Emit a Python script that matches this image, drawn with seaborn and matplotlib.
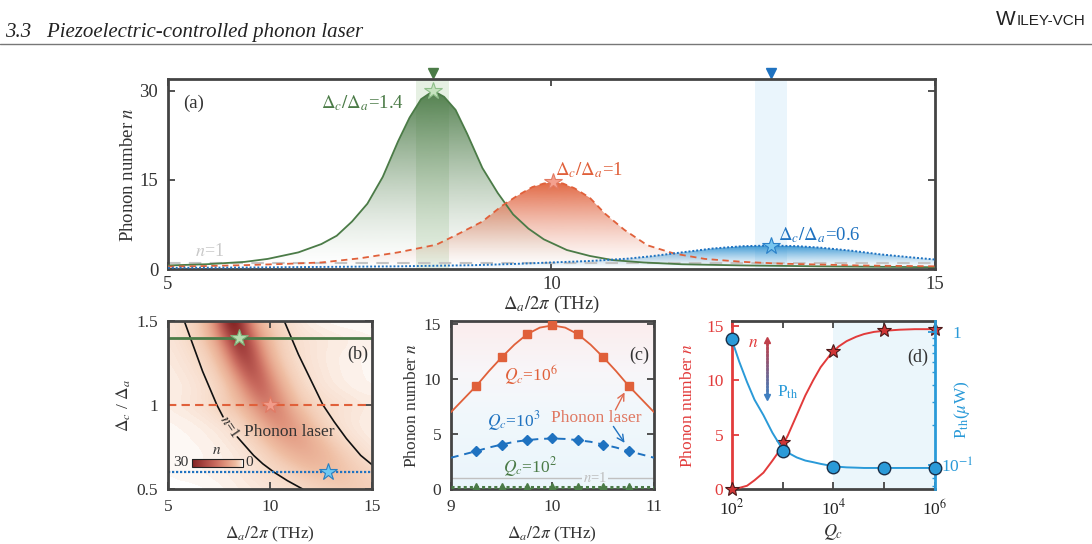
import numpy as np
import matplotlib
import matplotlib.pyplot as plt
import seaborn as sns
from matplotlib.colors import LinearSegmentedColormap, to_rgb
from matplotlib.patches import Polygon
from matplotlib.collections import LineCollection
from matplotlib.lines import Line2D

# ---------------- data ----------------
# (a) phonon number vs detuning for three ratios
ratios = [1.4, 1.0, 0.6]
peak_x = [8.46, 10.02, 12.86]
peak_n = [30.0, 14.6, 3.95]

green_x = [5.0, 5.5, 6.0, 6.3, 6.7, 7.0, 7.2, 7.4, 7.6, 7.8, 8.0, 8.15, 8.3, 8.46, 8.6,
           8.75, 8.9, 9.1, 9.3, 9.5, 9.7, 9.9, 10.2, 10.5, 10.8, 11.2, 11.7, 12.5, 13.5, 15.0]
green_n = [0.6, 0.8, 1.2, 1.7, 2.8, 4.2, 5.6, 8.0, 11.0, 15.5, 21.5, 25.5, 28.6, 30.0, 29.0,
           26.8, 22.8, 17.0, 12.8, 9.2, 6.8, 5.0, 3.2, 2.2, 1.5, 1.1, 0.8, 0.6, 0.45, 0.3]

red_x = [5.0, 5.5, 6.0, 6.5, 7.0, 7.5, 8.0, 8.5, 8.8, 9.1, 9.35, 9.55, 9.75, 9.9, 10.02,
         10.15, 10.3, 10.5, 10.7, 10.95, 11.25, 11.6, 12.0, 12.5, 13.0, 13.5, 14.0, 15.0]
red_n = [0.4, 0.5, 0.65, 0.85, 1.1, 1.8, 2.8, 4.1, 6.0, 8.0, 10.6, 12.3, 13.8, 14.4, 14.6,
         14.4, 13.6, 12.0, 9.3, 6.6, 4.0, 2.6, 1.7, 1.2, 0.9, 0.75, 0.6, 0.45]

blue_x = [5.0, 6.0, 7.0, 8.0, 9.0, 9.5, 10.0, 10.5, 11.0, 11.3, 11.7, 12.1, 12.5, 12.86,
          13.2, 13.5, 13.9, 14.3, 14.7, 15.0]
blue_n = [0.2, 0.25, 0.35, 0.45, 0.65, 0.85, 1.1, 1.35, 1.75, 2.15, 2.8, 3.45, 3.85, 3.95,
          3.85, 3.6, 3.1, 2.45, 1.95, 1.6]

# (b) phonon number map: rows = Delta_c/Delta_a, columns = Delta_a/2pi
map_x = [5.0, 5.5, 6.0, 6.5, 7.0, 7.5, 8.0, 8.5, 9.0, 9.5, 10.0, 10.5, 11.0, 11.5, 12.0,
         12.5, 13.0, 13.5, 14.0, 14.5, 15.0]
map_r = [0.5, 0.6, 0.7, 0.8, 0.9, 1.0, 1.1, 1.2, 1.3, 1.4, 1.5]
map_n = [
    [0.02, 0.03, 0.04, 0.06, 0.1, 0.16, 0.25, 0.32, 0.4, 0.48, 0.58, 0.7, 0.85, 1.05, 1.3, 1.6, 1.95, 2.3, 2.5, 2.4, 2.2],
    [0.15, 0.2, 0.22, 0.25, 0.3, 0.35, 0.4, 0.5, 0.65, 0.85, 1.1, 1.35, 1.7, 2.4, 3.2, 3.8, 3.95, 3.7, 2.9, 2.1, 1.6],
    [0.12, 0.14, 0.16, 0.19, 0.23, 0.3, 0.37, 0.5, 0.72, 1.15, 1.9, 3.0, 4.4, 5.8, 6.3, 5.6, 4.2, 2.8, 1.7, 1.07, 0.66],
    [0.16, 0.19, 0.22, 0.27, 0.34, 0.43, 0.59, 0.88, 1.5, 2.6, 4.5, 6.9, 8.6, 8.4, 6.2, 3.9, 2.2, 1.2, 0.77, 0.53, 0.4],
    [0.2, 0.24, 0.29, 0.36, 0.47, 0.63, 0.94, 1.6, 3.1, 5.8, 9.3, 11.5, 9.9, 6.3, 3.4, 1.8, 1.0, 0.67, 0.5, 0.38, 0.3],
    [0.4, 0.5, 0.6, 0.8, 1.1, 1.9, 2.8, 4.1, 7.2, 11.6, 14.6, 11.5, 6.3, 3.0, 1.9, 1.3, 1.0, 0.8, 0.65, 0.55, 0.5],
    [0.31, 0.38, 0.49, 0.67, 0.94, 1.5, 3.1, 6.8, 13.3, 18.0, 14.2, 7.6, 3.4, 1.6, 0.97, 0.68, 0.5, 0.39, 0.31, 0.25, 0.22],
    [0.39, 0.5, 0.65, 0.92, 1.4, 2.7, 6.2, 13.8, 21.1, 18.1, 9.7, 4.1, 1.9, 1.1, 0.77, 0.58, 0.43, 0.34, 0.28, 0.24, 0.2],
    [0.48, 0.64, 0.87, 1.3, 2.2, 5.1, 12.4, 23.2, 23.7, 13.3, 5.5, 2.4, 1.3, 0.9, 0.66, 0.48, 0.38, 0.32, 0.26, 0.22, 0.18],
    [0.6, 0.8, 1.3, 2.1, 4.3, 9.7, 21.0, 29.8, 19.5, 9.0, 4.2, 2.1, 1.3, 0.9, 0.7, 0.6, 0.5, 0.45, 0.4, 0.35, 0.3],
    [0.68, 0.95, 1.4, 2.5, 6.1, 16.7, 32.3, 27.5, 11.9, 4.3, 2.0, 1.2, 0.85, 0.45, 0.3, 0.2, 0.14, 0.1, 0.08, 0.06, 0.05],
]
# n = 1 contour lines (left one has a gap for its label)
cl_up_x = [5.8, 6.1, 6.4, 6.7, 7.05, 7.4, 7.7]
cl_up_r = [1.5, 1.4, 1.3, 1.2, 1.1, 1.0, 0.93]
cl_lo_x = [8.4, 8.8, 9.2, 9.65, 10.2, 10.85, 11.6]
cl_lo_r = [0.81, 0.755, 0.7, 0.65, 0.6, 0.55, 0.5]
cr_x = [10.7, 11.05, 11.4, 11.8, 12.2, 12.6, 13.15, 13.75, 14.45, 15.0]
cr_r = [1.5, 1.4, 1.3, 1.2, 1.1, 1.0, 0.9, 0.8, 0.7, 0.645]

# (c) phonon number near resonance for three Q_c
c_mark_x = [9.25, 9.5, 9.75, 10.0, 10.25, 10.5, 10.75]
q6_mark = [9.4, 12.0, 14.1, 14.9, 14.1, 12.0, 9.4]
q3_mark = [3.45, 4.05, 4.45, 4.6, 4.45, 4.05, 3.45]
q2_mark = [0.2, 0.2, 0.2, 0.2, 0.2, 0.2, 0.2]
c_line_x = [9.0, 9.125, 9.25, 9.375, 9.5, 9.625, 9.75, 9.875, 10.0, 10.125, 10.25, 10.375,
            10.5, 10.625, 10.75, 10.875, 11.0]
q6_line = [7.0, 8.2, 9.4, 10.75, 12.0, 13.15, 14.1, 14.7, 14.9, 14.7, 14.1, 13.15, 12.0,
           10.75, 9.4, 8.2, 7.0]
q3_line = [2.85, 3.15, 3.45, 3.78, 4.05, 4.3, 4.45, 4.56, 4.6, 4.56, 4.45, 4.3, 4.05, 3.78,
           3.45, 3.15, 2.85]
q2_line = [0.2] * 17

# (d) n and threshold power vs Q_c
qc_pts = [1e2, 1e3, 1e4, 1e5, 1e6]
n_pts = [0.0, 4.3, 12.7, 14.6, 14.7]
p_pts = [0.88, 0.128, 0.097, 0.095, 0.095]
qc_line = [100, 140, 200, 280, 420, 630, 890, 1260, 1900, 2800, 4000, 5600, 8500, 12600,
           18200, 28000, 40000, 63000, 1e5, 2e5, 4e5, 1e6]
n_line = [0.0, 0.1, 0.3, 0.8, 1.5, 2.6, 3.6, 4.9, 6.8, 8.6, 10.0, 11.2, 12.3, 13.1, 13.6,
          14.0, 14.25, 14.45, 14.55, 14.65, 14.7, 14.7]
p_line = [0.88, 0.6, 0.42, 0.31, 0.237, 0.175, 0.141, 0.124, 0.114, 0.108, 0.105, 0.102,
          0.099, 0.097, 0.096, 0.0955, 0.095, 0.095, 0.095, 0.095, 0.095, 0.095]

# ---------------- style ----------------
sns.set_theme(style='ticks')
plt.rcParams.update({
    'font.family': ['Liberation Serif', 'DejaVu Serif'],
    'mathtext.fontset': 'stix',
    'axes.linewidth': 2.0,
    'axes.edgecolor': '#444444',
    'xtick.direction': 'in', 'ytick.direction': 'in',
    'xtick.top': True, 'ytick.right': True,
    'xtick.major.size': 5, 'ytick.major.size': 5,
    'xtick.major.width': 1.3, 'ytick.major.width': 1.3,
    'xtick.minor.size': 2.5, 'ytick.minor.size': 2.5,
    'xtick.color': '#444444', 'ytick.color': '#444444',
    'xtick.labelcolor': '#333333', 'ytick.labelcolor': '#333333',
    'axes.labelcolor': '#333333', 'text.color': '#333333',
})

GREEN = '#4b7b47'
RED = '#e0603a'
BLUE = '#1f72c0'
RED_D = '#e23b3b'
BLUE_D = '#2a9ad8'

fig = plt.figure(figsize=(10.92, 5.44), dpi=100)

# header
fig.text(0.005, 1 - 33 / 544, '3.3   Piezoelectric-controlled phonon laser', style='italic',
         fontsize=15, va='center', color='#222222')
fig.add_artist(Line2D([0, 1], [1 - 44 / 544] * 2, color='#777777', lw=1))
t_rest = fig.text(0.9935, 1 - 25 / 544, 'ILEY-VCH', ha='right', va='baseline', fontsize=11,
                  family='Liberation Sans', color='#222222')
bb = t_rest.get_window_extent(fig.canvas.get_renderer())
fig.text(bb.x0 / fig.bbox.width, 1 - 25 / 544, 'W', ha='right', va='baseline', fontsize=15,
         family='Liberation Sans', color='#222222')


def gradient_fill(ax, x, y, color, alpha_top, z):
    x = np.asarray(x, float)
    y = np.asarray(y, float)
    verts = np.column_stack([np.r_[x[0], x, x[-1]], np.r_[0, y, 0]])
    clip = Polygon(verts, closed=True, facecolor='none', edgecolor='none',
                   transform=ax.transData)
    ax.add_patch(clip)
    img = np.zeros((256, 1, 4))
    img[..., :3] = to_rgb(color)
    img[:, 0, 3] = np.linspace(0, 1, 256) ** 1.4 * alpha_top
    im = ax.imshow(img, extent=(x.min(), x.max(), 0, y.max()), origin='lower',
                   aspect='auto', zorder=z, interpolation='bilinear')
    im.set_clip_path(clip)


# ---------------- (a) ----------------
ax_a = fig.add_axes([0.1538, 0.5055, 0.7024, 0.3493])
ax_a.axvspan(8.23, 8.67, color='#e6f0e3', zorder=0.2, lw=0)
ax_a.axvspan(12.65, 13.07, color='#eaf5fc', zorder=0.2, lw=0)
gradient_fill(ax_a, green_x, green_n, '#4a7a46', 0.95, 1)
gradient_fill(ax_a, red_x, red_n, '#e0603a', 0.95, 1.1)
gradient_fill(ax_a, blue_x, blue_n, '#2b8fd0', 0.95, 1.2)
ax_a.axhline(1, color='#c4c4c4', lw=1.5, ls=(0, (6, 4)), zorder=1.5)
sns.lineplot(x=green_x, y=green_n, ax=ax_a, color=GREEN, lw=1.3, zorder=3)
sns.lineplot(x=red_x, y=red_n, ax=ax_a, color=RED, lw=1.3, linestyle=(0, (3.5, 2.5)), zorder=3)
sns.lineplot(x=blue_x, y=blue_n, ax=ax_a, color=BLUE, lw=1.4, linestyle=(0, (1, 1)), zorder=3)
star_fc = ['#c6e3bf', '#f4a08e', '#78c6ef']
star_ec = ['#8fbf8a', '#e27a62', '#2a80c8']
for px, pn, fc, ec in zip(peak_x, peak_n, star_fc, star_ec):
    ax_a.plot(px, pn, marker='*', ms=13, mfc=fc, mec=ec, mew=0.8, zorder=4, ls='none')
trans = ax_a.get_xaxis_transform()
ax_a.plot(peak_x[0], 1.032, 'v', color=GREEN, ms=7, transform=trans, clip_on=False)
ax_a.plot(peak_x[2], 1.032, 'v', color=BLUE, ms=7, transform=trans, clip_on=False)
ax_a.set_xlim(5, 15)
ax_a.set_ylim(0, 32)
ax_a.set_xticks([5, 10, 15])
ax_a.set_yticks([0, 15, 30])
ax_a.tick_params(axis='y', labelsize=13.5, pad=7)
ax_a.tick_params(axis='x', labelsize=13.5, pad=5)
ax_a.set_xlabel(r'$\Delta_a/2\pi$ (THz)', fontsize=13.5)
ax_a.set_ylabel(r'Phonon number $n$', fontsize=13.5)
ax_a.xaxis.set_label_coords(0.5, -0.13)
ax_a.yaxis.set_label_coords(-0.04, 0.495)
ax_a.text(5.33, 27.9, '(a)', fontsize=13.5, ha='center', va='center')
ax_a.text(7.0, 27.9, r'$\Delta_c/\Delta_a$=%.1f' % ratios[0], color=GREEN, fontsize=13.5, va='center')
ax_a.text(10.05, 16.7, r'$\Delta_c/\Delta_a$=%g' % ratios[1], color=RED, fontsize=13.5, va='center')
ax_a.text(12.95, 5.7, r'$\Delta_c/\Delta_a$=%.1f' % ratios[2], color=BLUE, fontsize=13.5, va='center')
ax_a.text(5.35, 2.9, r'$n$=1', color='#c8c8c8', fontsize=13, va='center')

# ---------------- (b) ----------------
ax_b = fig.add_axes([0.1538, 0.1011, 0.1868, 0.3088])
heat_cmap = LinearSegmentedColormap.from_list('heat', [
    (0.0, '#ffffff'), (0.007, '#fdf3ec'), (0.017, '#fae6d9'), (0.05, '#f6d6c2'),
    (0.133, '#efbda2'), (0.333, '#e0937c'), (0.533, '#c96a5e'), (0.767, '#a64340'),
    (1.0, '#7f1f1f')])
im = ax_b.imshow(np.array(map_n), extent=(map_x[0] - 0.25, map_x[-1] + 0.25,
                                          map_r[0] - 0.05, map_r[-1] + 0.05),
                 origin='lower', aspect='auto', cmap=heat_cmap, vmin=0, vmax=30,
                 interpolation='bicubic', zorder=0)
ax_b.plot(cl_up_x, cl_up_r, color='#111111', lw=1.2)
ax_b.plot(cl_lo_x, cl_lo_r, color='#111111', lw=1.2)
ax_b.plot(cr_x, cr_r, color='#111111', lw=1.2)
ax_b.axhline(ratios[0], color=GREEN, lw=2)
ax_b.axhline(ratios[1], color=RED, lw=1.5, ls=(0, (4, 2.5)))
ax_b.axhline(ratios[2], color=BLUE, lw=1.6, ls=(0, (1, 0.8)))
bstar_fc = ['#b5dcae', '#f29c8a', '#6ec8f2']
bstar_ec = ['#7fb27a', '#e07a64', '#2a7fc0']
for px, pr, fc, ec in zip(peak_x, ratios, bstar_fc, bstar_ec):
    ax_b.plot(px, pr, marker='*', ms=13, mfc=fc, mec=ec, mew=0.8, ls='none', zorder=4)
ax_b.text(8.05, 0.87, r'$n$=1', rotation=-56, rotation_mode='anchor', ha='center',
          va='center', fontsize=10.5, color='#222222')
ax_b.text(10.95, 0.84, 'Phonon laser', fontsize=12.5, ha='center', va='center', color='#333333')
ax_b.text(14.3, 1.30, '(b)', fontsize=13, ha='center', va='center')
cax = ax_b.inset_axes([0.116, 0.133, 0.25, 0.045])
cb = fig.colorbar(im, cax=cax, orientation='horizontal')
cax.invert_xaxis()
cb.set_ticks([15])
cax.xaxis.set_ticks_position('top')
cax.tick_params(axis='x', direction='in', length=3, width=1, color='#222222',
                labeltop=False, labelbottom=False, bottom=False)
cb.outline.set_linewidth(0.8)
cb.outline.set_edgecolor('#222222')
cax.text(-0.06, 0.5, '30', transform=cax.transAxes, ha='right', va='center', fontsize=11)
cax.text(1.06, 0.5, '0', transform=cax.transAxes, ha='left', va='center', fontsize=11)
cax.text(0.5, 2.1, r'$n$', transform=cax.transAxes, ha='center', va='center', fontsize=11)
ax_b.set_xlim(5, 15)
ax_b.set_ylim(0.5, 1.5)
ax_b.set_xticks([5, 10, 15])
ax_b.set_yticks([0.5, 1.0, 1.5])
ax_b.set_yticklabels(['0.5', '1', '1.5'])
ax_b.tick_params(labelsize=12.5, pad=7)
ax_b.set_xlabel(r'$\Delta_a/2\pi$ (THz)', fontsize=12.5)
ax_b.set_ylabel(r'$\Delta_c$ / $\Delta_a$', fontsize=12.5)
ax_b.xaxis.set_label_coords(0.5, -0.215)
ax_b.yaxis.set_label_coords(-0.17, 0.5)

# ---------------- (c) ----------------
ax_c = fig.add_axes([0.4130, 0.1011, 0.1859, 0.3088])
bg_cmap = LinearSegmentedColormap.from_list('bg', [
    (0.0, '#eaf5fb'), (0.45, '#f1f8fc'), (0.7, '#f8f6f9'), (1.0, '#fbeded')])
ax_c.imshow(np.linspace(0, 1, 128).reshape(-1, 1), extent=(9, 11, 0, 15.3), origin='lower',
            aspect='auto', cmap=bg_cmap, zorder=0, interpolation='bilinear')
ax_c.axhline(1, color='#c0c0c0', lw=1, zorder=1)
ax_c.text(10.42, 1.0, r'$n$=1', color='#bdbdbd', fontsize=10.5, ha='center', va='center',
          bbox=dict(facecolor='#edf6fb', edgecolor='none', pad=0.5), zorder=2)
sns.lineplot(x=c_line_x, y=q6_line, ax=ax_c, color=RED, lw=1.3, zorder=3)
sns.lineplot(x=c_line_x, y=q3_line, ax=ax_c, color=BLUE, lw=1.4, linestyle=(0, (4, 3)), zorder=3)
sns.lineplot(x=c_line_x, y=q2_line, ax=ax_c, color=GREEN, lw=2.2, linestyle=(0, (1, 1)), zorder=3)
ax_c.plot(c_mark_x, q6_mark, 's', color=RED, ms=5.5, zorder=4)
ax_c.plot(c_mark_x, q3_mark, 'D', color=BLUE, ms=5, zorder=4)
ax_c.plot(c_mark_x, q2_mark, '^', color=GREEN, ms=5.5, zorder=4)
ax_c.text(9.79, 10.4, r'$Q_c$=10$^6$', color=RED, fontsize=12.5, ha='center', va='center')
ax_c.text(9.62, 6.2, r'$Q_c$=10$^3$', color=BLUE, fontsize=12.5, ha='center', va='center')
ax_c.text(9.78, 2.0, r'$Q_c$=10$^2$', color=GREEN, fontsize=12.5, ha='center', va='center')
ax_c.text(10.43, 6.5, 'Phonon laser', color='#e07862', fontsize=12.5, ha='center', va='center')
ax_c.annotate('', xy=(10.71, 8.8), xytext=(10.62, 7.2),
              arrowprops=dict(arrowstyle='->', color='#e06a50', lw=1, shrinkA=0, shrinkB=0))
ax_c.annotate('', xy=(10.71, 4.2), xytext=(10.6, 5.7),
              arrowprops=dict(arrowstyle='->', color=BLUE, lw=1, shrinkA=0, shrinkB=0))
ax_c.text(10.85, 12.2, '(c)', fontsize=13, ha='center', va='center')
ax_c.set_xlim(9, 11)
ax_c.set_ylim(0, 15.3)
ax_c.set_xticks([9, 10, 11])
ax_c.set_yticks([0, 5, 10, 15])
ax_c.tick_params(labelsize=12.5, pad=7)
ax_c.set_xlabel(r'$\Delta_a/2\pi$ (THz)', fontsize=12.5)
ax_c.set_ylabel(r'Phonon number $n$', fontsize=12.5)
ax_c.xaxis.set_label_coords(0.5, -0.215)
ax_c.yaxis.set_label_coords(-0.153, 0.5)

# ---------------- (d) ----------------
ax_d = fig.add_axes([0.6701, 0.1011, 0.1862, 0.3088])
ax_d.axvspan(1e4, 1e6, color='#ebf6fb', zorder=0, lw=0)
sns.lineplot(x=qc_line, y=n_line, ax=ax_d, color=RED_D, lw=1.4, zorder=3)
ax_d.plot(qc_pts, n_pts, '*', ms=10, mfc='#d03535', mec='#4a1818', mew=0.8,
          clip_on=False, zorder=5)
ax_d.set_xscale('log')
ax_d.set_xlim(1e2, 1e6)
ax_d.set_ylim(0, 15.45)
ax_d.set_xticks([1e2, 1e3, 1e4, 1e5, 1e6])
ax_d.set_xticklabels(['10$^2$', '', '10$^4$', '', '10$^6$'])
ax_d.set_yticks([0, 5, 10, 15])
ax_d.tick_params(axis='x', labelsize=12.5, pad=7, labelcolor='#222222')
ax_d.tick_params(axis='y', right=False, labelsize=12.5, pad=6, color=RED_D, labelcolor=RED_D)
ax_d.spines['left'].set_color(RED_D)
ax_d.spines['right'].set_visible(False)
ax_d.set_xlabel(r'$Q_c$', fontsize=13)
ax_d.set_ylabel(r'Phonon number $n$', fontsize=12.5, color=RED_D)
ax_d.xaxis.set_label_coords(0.5, -0.195)
ax_d.yaxis.set_label_coords(-0.176, 0.5)

axr = ax_d.twinx()
sns.lineplot(x=qc_line, y=p_line, ax=axr, color=BLUE_D, lw=1.4, zorder=3)
axr.plot(qc_pts, p_pts, 'o', ms=9, mfc=BLUE_D, mec='#1a2f48', mew=1, clip_on=False, zorder=5)
axr.set_yscale('log')
axr.set_ylim(0.066, 1.21)
axr.set_yticks([0.1, 1])
axr.set_yticklabels(['10$^{-1}$', '1'])
for s in ['left', 'top', 'bottom']:
    axr.spines[s].set_visible(False)
axr.spines['right'].set_color(BLUE_D)
axr.tick_params(axis='y', which='both', left=False, right=True, color=BLUE_D,
                labelcolor=BLUE_D, labelsize=12.5, pad=16)
for lab in axr.get_yticklabels():
    lab.set_horizontalalignment('center')
axr.set_ylabel(r'P$_{\rm th}$($\mu$W)', fontsize=12.5, color=BLUE_D, rotation=90, va='center')
axr.yaxis.set_label_coords(1.13, 0.47)
axr.set_xlim(1e2, 1e6)

# gradient arrow n <-> P_th
ys = np.linspace(8.6, 13.6, 40)
segs = [[(500, ys[i]), (500, ys[i + 1])] for i in range(len(ys) - 1)]
arrow_cmap = LinearSegmentedColormap.from_list('arr', ['#3f7fc0', '#c0404a'])
lc = LineCollection(segs, colors=arrow_cmap(np.linspace(0, 1, len(segs))), lw=1.8,
                    zorder=6, capstyle='round')
ax_d.add_collection(lc)
ax_d.plot(500, 13.7, '^', color='#c0404a', ms=4.5, zorder=6)
ax_d.plot(500, 8.45, 'v', color='#3f7fc0', ms=4.5, zorder=6)
ax_d.text(263, 13.4, r'$n$', color=RED_D, fontsize=12.5, ha='center', va='center')
ax_d.text(780, 8.9, r'P$_{\rm th}$', color=BLUE_D, fontsize=12.5, ha='left', va='center')
ax_d.text(4.5e5, 12.1, '(d)', fontsize=13, ha='center', va='center')

fig.savefig('out.png', dpi=100)
